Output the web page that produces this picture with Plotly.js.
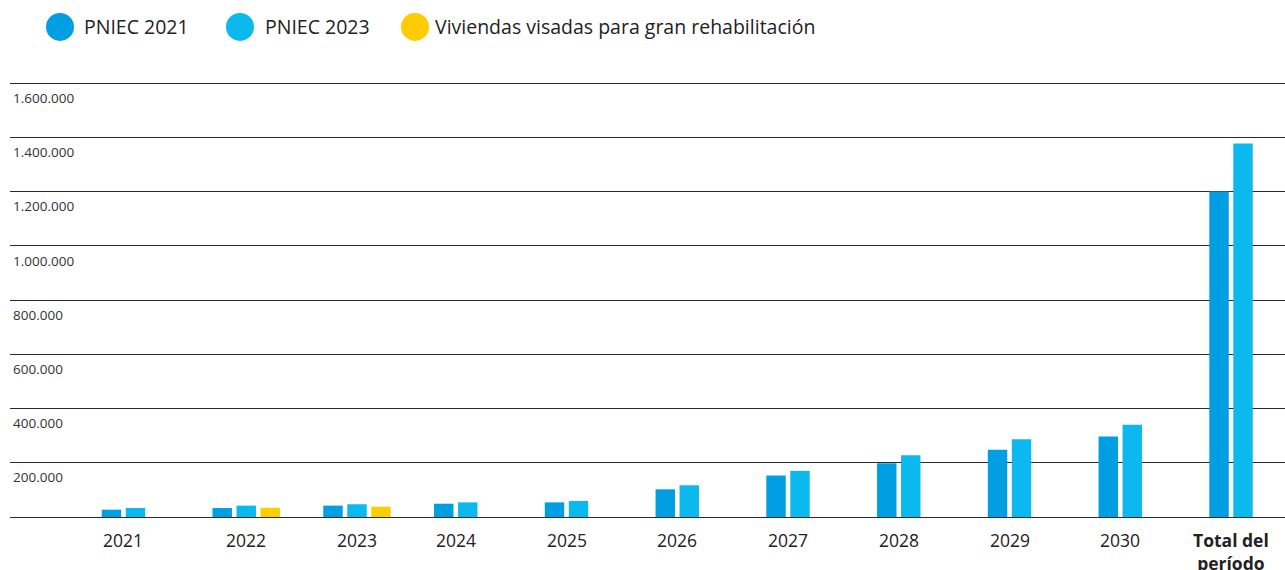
<!DOCTYPE html>
<html>
<head>
<meta charset="utf-8">
<script src="https://cdn.plot.ly/plotly-3.0.1.min.js"></script>
<style>html,body{margin:0;padding:0;background:#fff;}#chart{width:1285px;height:570px;}</style>
</head>
<body>
<div id="chart"></div>
<script>
const categories = ['2021','2022','2023','2024','2025','2026','2027','2028','2029','2030','Total del período'];
const xTickLabels = ['2021','2022','2023','2024','2025','2026','2027','2028','2029','2030','<b>Total del<br>período</b>'];
const pniec2021 = [27000,33000,42000,49000,54000,102000,153000,198000,248000,297000,1200000];
const pniec2023 = [33000,42000,47000,54000,59000,117000,170000,228000,287000,340000,1377000];
const viviendasVisadas = [null,34000,38000,null,null,null,null,null,null,null,null];
const seriesNames = ['PNIEC 2021','PNIEC 2023','Viviendas visadas para gran rehabilitación'];
const seriesColors = ['#009ee2','#0cb9ef','#ffcc00'];
const yTickVals = [200000,400000,600000,800000,1000000,1200000,1400000,1600000];
const yTickText = ['200.000','400.000','600.000','800.000','1.000.000','1.200.000','1.400.000','1.600.000'];

const FONT = 'Open Sans, Noto Sans, sans-serif';
const seriesValues = [pniec2021, pniec2023, viviendasVisadas];
const traces = seriesValues.map((vals, i) => ({
  type: 'bar', x: categories, y: vals, name: seriesNames[i],
  marker: {color: seriesColors[i]}, hoverinfo: 'x+y+name'
}));

const annotations = categories.map((c, i) => ({
  x: i, y: 0, xref: 'x', yref: 'y', text: xTickLabels[i], showarrow: false,
  xanchor: 'center', yanchor: 'top', yshift: -9,
  xshift: viviendasVisadas[i] == null ? -12 : 0,
  font: {family: FONT, size: 17.5, color: '#222'}
}));

const legendCx = [0.03922, 0.18039, 0.31765];
const legendTx = [0.0565, 0.1984, 0.3318];
const legendY = 1.1267;
const shapes = [];
seriesNames.forEach((n, i) => {
  shapes.push({type: 'circle', xref: 'paper', yref: 'paper', xsizemode: 'pixel', ysizemode: 'pixel',
    xanchor: legendCx[i], yanchor: legendY, x0: -14, x1: 14, y0: -14, y1: 14,
    fillcolor: seriesColors[i], line: {width: 0}});
  annotations.push({x: legendTx[i], y: legendY, xref: 'paper', yref: 'paper', text: n, showarrow: false,
    xanchor: 'left', yanchor: 'middle', font: {family: FONT, size: 19.5, color: '#222'}});
});

const layout = {
  width: 1285, height: 570,
  margin: {l: 10, r: 0, t: 82, b: 53, pad: 0},
  paper_bgcolor: '#fff', plot_bgcolor: '#fff',
  barmode: 'group', bargap: 0.35, bargroupgap: 0.19,
  showlegend: false,
  font: {family: FONT, color: '#222'},
  xaxis: {type: 'category', range: [-1.133, 10.379], showticklabels: false, showgrid: false,
    zeroline: false, showline: false, ticks: '', fixedrange: true},
  yaxis: {range: [0, 1604000], tickvals: yTickVals, ticktext: yTickText, ticks: '',
    ticklabelposition: 'inside', ticklabelshift: 15,
    showgrid: true, gridcolor: '#2a2a2a', gridwidth: 1,
    zeroline: true, zerolinecolor: '#2a2a2a', zerolinewidth: 1, showline: false,
    tickfont: {family: FONT, size: 13.5, color: '#333'}, fixedrange: true},
  annotations: annotations,
  shapes: shapes
};

Plotly.newPlot('chart', traces, layout, {displayModeBar: false, staticPlot: true});
</script>
</body>
</html>
